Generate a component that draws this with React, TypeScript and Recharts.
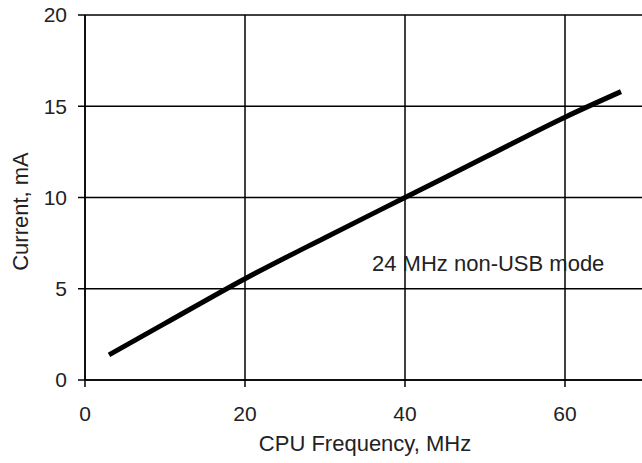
import { LineChart, Line, XAxis, YAxis, CartesianGrid, ReferenceDot, Label } from 'recharts';

// CPU clock (MHz) vs supply current (mA)
const freqMHz = [3, 10, 20, 30, 40, 50, 60, 67];
const currentMA = [1.38, 3.1, 5.55, 7.8, 10.0, 12.2, 14.4, 15.8];
const xTicks = [0, 20, 40, 60];
const yTicks = [0, 5, 10, 15, 20];
const noteText = '24 MHz non-USB mode';

const data = freqMHz.map((f, i) => ({ freq: f, current: currentMA[i] }));

const YTitle = ({ viewBox }: any) => {
  const cx = 20;
  const cy = viewBox.y + viewBox.height / 2 + 14;
  return (
    <text
      x={cx}
      y={cy}
      transform={`rotate(-90 ${cx} ${cy})`}
      textAnchor="middle"
      dominantBaseline="central"
      fill="#222"
      fontSize={22}
    >
      Current, mA
    </text>
  );
};

export default function App() {
  return (
    <div
      style={{
        position: 'absolute',
        left: 0,
        top: 0,
        width: 642,
        height: 463,
        overflow: 'hidden',
        background: '#fff',
        fontFamily: '"Liberation Sans", Arial, sans-serif',
      }}
    >
      <LineChart width={645} height={463} data={data} margin={{ top: 15, right: 0, bottom: 0, left: 0 }}>
        <CartesianGrid stroke="#000" strokeWidth={1.5} />
        <XAxis
          type="number"
          dataKey="freq"
          domain={[0, 70]}
          ticks={xTicks}
          allowDataOverflow
          height={83}
          tickSize={7}
          tickMargin={19}
          tick={{ fill: '#222', fontSize: 21 }}
          axisLine={{ stroke: '#000', strokeWidth: 1.5 }}
          tickLine={{ stroke: '#000', strokeWidth: 1.5 }}
        >
          <Label value="CPU Frequency, MHz" position="insideBottom" offset={12} fill="#222" fontSize={22} />
        </XAxis>
        <YAxis
          type="number"
          domain={[0, 20]}
          ticks={yTicks}
          width={85}
          tickSize={7}
          tickMargin={11}
          tick={{ fill: '#222', fontSize: 21 }}
          axisLine={{ stroke: '#000', strokeWidth: 1.5 }}
          tickLine={{ stroke: '#000', strokeWidth: 1.5 }}
        >
          <Label content={<YTitle />} />
        </YAxis>
        <ReferenceDot
          x={50.4}
          y={6.4}
          r={0}
          fill="none"
          stroke="none"
          label={{ value: noteText, position: 'center', fill: '#222', fontSize: 22 }}
        />
        <Line
          type="monotone"
          dataKey="current"
          stroke="#000"
          strokeWidth={5}
          dot={false}
          isAnimationActive={false}
        />
      </LineChart>
    </div>
  );
}
